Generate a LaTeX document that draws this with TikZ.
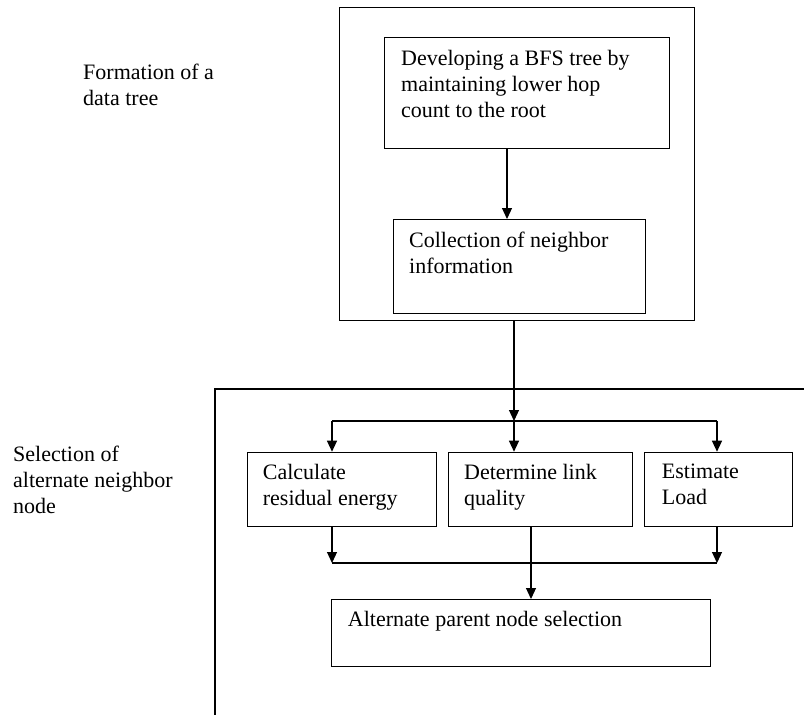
\documentclass[tikz,border=0pt]{standalone}
\usepackage{fontspec}
\setmainfont{Liberation Serif}
\usetikzlibrary{arrows.meta}
\begin{document}
\begin{tikzpicture}[x=1pt,y=-1pt,
  boxx/.style={draw, line width=1.1pt, inner sep=0pt},
  txt/.style={anchor=north west, inner sep=0pt, align=left, font=\fontsize{22}{26}\selectfont},
  conn/.style={line width=1.2pt},
  arr/.style={conn, -{Triangle[width=10pt,length=11pt]}}]
\useasboundingbox (0,0) rectangle (804,715);
% top frame and boxes
\node[boxx, minimum width=355pt, minimum height=313pt, anchor=north west] (top) at (339,7) {};
\node[boxx, minimum width=285pt, minimum height=110.5pt, anchor=north west] (bfs) at (384,37) {};
\node[boxx, minimum width=252pt, minimum height=94pt, anchor=north west] (coll) at (392.7,219) {};
% lower frame
\coordinate (lfr) at (804,389);
\coordinate (lftop) at (215,389);
\coordinate (lfbot) at (215,715);
\draw[line width=1.1pt] (lfr) -- (lftop) -- (lfbot);
% lower boxes
\node[boxx, minimum width=189.3pt, minimum height=74.3pt, anchor=north west] (calc) at (246.7,451.7) {};
\node[boxx, minimum width=184pt, minimum height=74.3pt, anchor=north west] (det) at (447.7,451.7) {};
\node[boxx, minimum width=148pt, minimum height=74.3pt, anchor=north west] (est) at (644,451.7) {};
\node[boxx, minimum width=379pt, minimum height=67pt, anchor=north west] (alt) at (331,599) {};
% texts
\node[txt] (lab1) at (83,64) {Formation of a\\data tree};
\node[txt] (lab2) at (13,446) {Selection of\\alternate neighbor\\node};
\node[txt] (bfst) at (401,50) {Developing a BFS tree by\\maintaining lower hop\\count to the root};
\node[txt] (collt) at (409,232) {Collection of neighbor\\information};
\node[txt] (calct) at (262.7,463.7) {Calculate\\residual energy};
\node[txt] (dett) at (464,463.7) {Determine link\\quality};
\node[txt] (estt) at (661.7,463.7) {Estimate\\Load};
\node[txt] (altt) at (347.7,610.7) {Alternate parent node selection};
% connectors
\draw[arr] (bfs.south -| 507,0) -- (coll.north -| 507,0);
\coordinate (bmid) at (514,421);
\coordinate (bl) at (332,421);
\coordinate (br) at (717,421);
\draw[arr] (top.south -| bmid) -- (bmid);
\draw[conn] (bl) -- (br);
\draw[arr] (bl) -- (calc.north -| bl);
\draw[arr] (bmid) -- (det.north -| bmid);
\draw[arr] (br) -- (est.north -| br);
\coordinate (ml) at (332,563);
\coordinate (mr) at (717,563);
\draw[arr] (calc.south -| ml) -- (ml);
\draw[arr] (est.south -| mr) -- (mr);
\draw[conn] (ml) -- (mr);
\draw[arr] (det.south -| 531,0) -- (alt.north -| 531,0);
\end{tikzpicture}
\end{document}
